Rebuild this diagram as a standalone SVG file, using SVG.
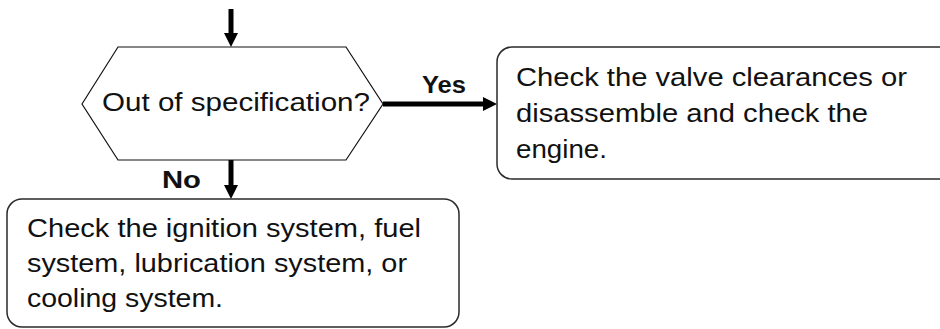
<svg xmlns="http://www.w3.org/2000/svg" width="940" height="329" viewBox="0 0 940 329">
  <style>
    .box { fill: #ffffff; stroke: #2a2a2a; stroke-width: 1.5; }
    .hex { fill: #ffffff; stroke: #111111; stroke-width: 1.2; }
    .txt { font-family: "Liberation Sans", Arial, sans-serif; font-size: 26px; fill: #111111; }
    .lbl { font-family: "Liberation Sans", Arial, sans-serif; font-size: 23px; font-weight: bold; fill: #111111; }
    .flow { stroke: #000000; stroke-width: 5; fill: none; }
    .head { fill: #000000; }
  </style>

  <rect width="940" height="329" fill="#ffffff"/>

  <!-- connectors -->
  <g id="connectors">
    <line class="flow" x1="231" y1="9" x2="231" y2="34"/>
    <polygon class="head" points="224,33 238,33 231,47"/>

    <line class="flow" x1="383" y1="104" x2="484" y2="104"/>
    <polygon class="head" points="483,97 483,111 497,104"/>

    <line class="flow" x1="231" y1="160" x2="231" y2="186"/>
    <polygon class="head" points="224,185 238,185 231,199"/>

    <text class="lbl" x="422" y="93" textLength="44" lengthAdjust="spacingAndGlyphs">Yes</text>
    <text class="lbl" x="162" y="188" textLength="39" lengthAdjust="spacingAndGlyphs">No</text>
  </g>

  <!-- decision -->
  <g id="decision">
    <polygon class="hex" points="82,104 118,47 346,47 383,104 346,160 118,160"/>
    <text class="txt" x="102" y="111" textLength="268" lengthAdjust="spacingAndGlyphs">Out of specification?</text>
  </g>

  <!-- yes branch -->
  <g id="check-engine">
    <rect class="box" x="497" y="47" width="460" height="132" rx="15" ry="15"/>
    <text class="txt" x="516" y="86" textLength="391" lengthAdjust="spacingAndGlyphs">Check the valve clearances or</text>
    <text class="txt" x="516" y="122" textLength="352" lengthAdjust="spacingAndGlyphs">disassemble and check the</text>
    <text class="txt" x="516" y="158" textLength="91" lengthAdjust="spacingAndGlyphs">engine.</text>
  </g>

  <!-- no branch -->
  <g id="check-systems">
    <rect class="box" x="7" y="199" width="452" height="128" rx="15" ry="15"/>
    <text class="txt" x="27" y="237" textLength="394" lengthAdjust="spacingAndGlyphs">Check the ignition system, fuel</text>
    <text class="txt" x="27" y="272" textLength="380" lengthAdjust="spacingAndGlyphs">system, lubrication system, or</text>
    <text class="txt" x="27" y="307" textLength="196" lengthAdjust="spacingAndGlyphs">cooling system.</text>
  </g>
</svg>
